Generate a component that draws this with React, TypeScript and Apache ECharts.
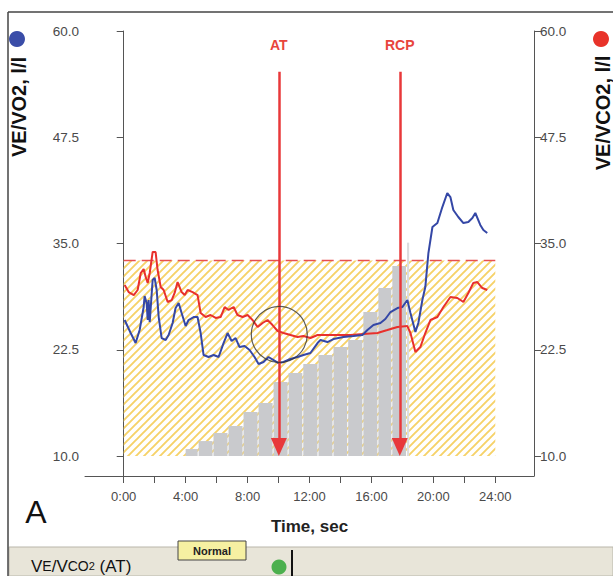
import React, { useEffect, useRef } from 'react';
import * as echarts from 'echarts';

// ---- axis ticks ----
const timeTicks = [0, 2, 4, 6, 8, 10, 12, 14, 16, 18, 20, 22, 24];
const timeLabels = [0, 4, 8, 12, 16, 20, 24];
const yTicks = [10, 22.5, 35, 47.5, 60];

// ---- VE/VO2 (blue) ----
const vo2Time = [0.06, 0.45, 0.77, 1.03, 1.29, 1.35, 1.48, 1.55, 1.61, 1.68, 1.81, 1.87, 2.0, 2.13, 2.26, 2.45, 2.71, 2.9, 3.16, 3.35, 3.55, 3.74, 4.0, 4.19, 4.52, 4.77, 4.97, 5.16, 5.48, 5.81, 6.13, 6.45, 6.71, 6.97, 7.23, 7.48, 7.81, 8.13, 8.45, 8.71, 9.03, 9.35, 9.68, 10.0, 10.32, 10.77, 11.23, 11.61, 12.06, 12.52, 12.71, 13.16, 13.55, 14.19, 14.84, 15.42, 15.74, 16.13, 16.58, 16.9, 17.23, 17.68, 18.0, 18.32, 18.52, 18.84, 19.03, 19.29, 19.48, 19.68, 19.94, 20.26, 20.58, 20.9, 21.1, 21.29, 21.61, 21.94, 22.26, 22.52, 22.71, 23.03, 23.23, 23.48];
const vo2Values = [26.0, 24.47, 23.29, 24.82, 27.53, 28.82, 28.0, 26.0, 28.35, 25.76, 29.18, 30.71, 30.94, 29.53, 26.35, 23.88, 23.65, 24.24, 25.65, 27.41, 28.0, 26.82, 25.29, 26.0, 26.35, 26.35, 24.47, 21.88, 21.65, 21.88, 21.65, 23.29, 24.47, 23.53, 23.88, 22.82, 22.94, 22.47, 21.65, 20.82, 21.06, 21.65, 21.29, 20.94, 21.06, 21.41, 21.65, 21.88, 22.12, 23.29, 23.65, 23.41, 23.76, 24.0, 24.12, 24.24, 24.82, 25.41, 25.65, 26.12, 26.94, 27.41, 27.53, 28.35, 26.82, 24.59, 25.65, 28.35, 29.88, 33.88, 36.94, 37.41, 39.29, 40.94, 40.47, 38.94, 38.12, 37.41, 37.53, 38.0, 38.59, 37.18, 36.59, 36.24];

// ---- VE/VCO2 (red) ----
const vco2Time = [0.06, 0.32, 0.65, 0.9, 1.1, 1.29, 1.42, 1.55, 1.68, 1.87, 2.06, 2.19, 2.39, 2.58, 2.84, 3.1, 3.29, 3.48, 3.74, 3.94, 4.13, 4.45, 4.77, 4.97, 5.29, 5.61, 5.94, 6.26, 6.52, 6.77, 7.1, 7.35, 7.68, 8.0, 8.32, 8.65, 8.97, 9.29, 9.61, 9.94, 10.32, 10.77, 11.23, 11.61, 12.06, 12.52, 13.55, 14.65, 15.48, 16.39, 17.03, 17.68, 18.32, 18.52, 18.84, 19.16, 19.48, 19.81, 20.26, 20.65, 21.1, 21.55, 21.94, 22.26, 22.58, 22.84, 23.16, 23.48];
const vco2Values = [30.12, 29.29, 28.94, 29.53, 31.53, 32.0, 31.06, 30.35, 31.53, 34.0, 34.0, 31.88, 29.88, 29.53, 28.12, 28.35, 29.18, 30.47, 29.29, 28.94, 29.53, 29.29, 28.94, 26.82, 26.35, 26.59, 26.24, 26.35, 27.53, 27.18, 27.53, 26.59, 26.35, 26.59, 26.0, 25.18, 25.65, 26.0, 25.41, 24.71, 24.47, 24.24, 24.0, 24.12, 23.88, 24.24, 24.24, 24.24, 24.35, 24.47, 24.82, 25.18, 25.29, 24.47, 22.24, 22.82, 24.47, 26.0, 26.35, 27.53, 28.71, 28.59, 28.12, 29.18, 30.35, 30.47, 29.76, 29.53];

// ---- grey workload bars ----
const barEdges = [4.0, 4.84, 5.8, 6.77, 7.74, 8.71, 9.68, 10.65, 11.6, 12.58, 13.55, 14.5, 15.48, 16.45, 17.35, 18.3];
const barValues = [10.82, 11.76, 12.71, 13.53, 15.18, 16.24, 18.71, 19.76, 20.82, 21.88, 22.82, 23.65, 26.94, 29.76, 32.35];
const peakBar = [18.3, 18.5, 35.1];

// ---- normal zone / threshold ----
const zoneRange = [0, 24];
const zoneFloor = 10;
const thresholdValue = 33;

// ---- markers ----
const markerNames = ['AT', 'RCP'];
const markerTimes = [10.02, 17.83];
const markerTop = 55.2;
const markerTip = 11.06;
const circleCenter = [10.05, 24.3];

function makeHatch() {
  const s = 8;
  const c = document.createElement('canvas');
  c.width = s;
  c.height = s;
  const ctx = c.getContext('2d')!;
  ctx.strokeStyle = '#f6d268';
  ctx.lineWidth = 1.9;
  ctx.beginPath();
  ctx.moveTo(-1, s + 1);
  ctx.lineTo(s + 1, -1);
  ctx.moveTo(-2, 2);
  ctx.lineTo(2, -2);
  ctx.moveTo(s - 2, s + 2);
  ctx.lineTo(s + 2, s - 2);
  ctx.stroke();
  return c;
}

export default function App() {
  const ref = useRef<HTMLDivElement>(null);
  useEffect(() => {
    if (!ref.current) return;
    const chart = echarts.init(ref.current, null, { renderer: 'svg' });
    const font = "'Liberation Sans', Arial, sans-serif";
    const hatch = makeHatch();
    const axisColor = '#555';

    const barData: number[][] = barValues.map((v, i) => [barEdges[i], barEdges[i + 1], v]);
    barData.push(peakBar);

    const yAxisBase = (position: 'left' | 'right') => ({
      type: 'value',
      position,
      min: 7.65,
      max: 60,
      axisLine: { show: true, lineStyle: { color: axisColor, width: 1 } },
      axisTick: { show: true, length: 7, customValues: yTicks, lineStyle: { color: axisColor } },
      axisLabel: {
        customValues: yTicks,
        formatter: (v: number) => v.toFixed(1),
        color: '#4a4a4a',
        fontSize: 13.5,
        fontFamily: font,
        margin: 6,
      },
      splitLine: { show: false },
    });

    const option: any = {
      animation: false,
      backgroundColor: '#fff',
      grid: { left: 85, right: 79, top: 31, bottom: 100, containLabel: false },
      xAxis: {
        type: 'value',
        min: -2.5,
        max: 26.5,
        axisLine: { show: true, lineStyle: { color: axisColor, width: 1 } },
        axisTick: { show: true, length: 7, customValues: timeTicks, lineStyle: { color: axisColor } },
        axisLabel: {
          customValues: timeLabels,
          formatter: (v: number) => `${v}:00`,
          color: '#4a4a4a',
          fontSize: 13,
          fontFamily: font,
          margin: 14,
        },
        splitLine: { show: false },
        name: 'Time, sec',
        nameLocation: 'middle',
        nameGap: 42,
        nameTextStyle: { fontWeight: 'bold', fontSize: 17, color: '#222', fontFamily: font },
      },
      yAxis: [yAxisBase('left'), yAxisBase('right')],
      series: [
        {
          type: 'custom',
          z: 1,
          silent: true,
          data: [[zoneRange[0], zoneRange[1], zoneFloor, thresholdValue]],
          encode: { x: [0, 1], y: [2, 3] },
          renderItem: (params: any, api: any) => {
            const p1 = api.coord([api.value(0), api.value(3)]);
            const p2 = api.coord([api.value(1), api.value(2)]);
            return {
              type: 'rect',
              shape: { x: p1[0], y: p1[1], width: p2[0] - p1[0], height: p2[1] - p1[1] },
              style: { fill: { image: hatch, repeat: 'repeat' } },
            };
          },
        },
        {
          type: 'custom',
          z: 2,
          silent: true,
          data: barData,
          encode: { x: [0, 1], y: 2 },
          renderItem: (params: any, api: any) => {
            const p1 = api.coord([api.value(0), api.value(2)]);
            const p2 = api.coord([api.value(1), zoneFloor]);
            const last = params.dataIndex === barData.length - 1;
            return {
              type: 'rect',
              shape: { x: p1[0], y: p1[1], width: Math.max(1, p2[0] - p1[0] - 1), height: p2[1] - p1[1] },
              style: { fill: last ? '#dcdcde' : '#c9cacd' },
            };
          },
        },
        {
          type: 'line',
          z: 3,
          silent: true,
          showSymbol: false,
          data: [[zoneRange[0], thresholdValue], [zoneRange[1], thresholdValue]],
          lineStyle: { color: '#e85050', width: 1.5, type: [12, 6] },
        },
        {
          name: 'VE/VCO2',
          type: 'line',
          z: 4,
          yAxisIndex: 1,
          showSymbol: false,
          silent: true,
          data: vco2Time.map((t, i) => [t, vco2Values[i]]),
          lineStyle: { color: '#e8302c', width: 2 },
        },
        {
          name: 'VE/VO2',
          type: 'line',
          z: 4,
          yAxisIndex: 0,
          showSymbol: false,
          silent: true,
          data: vo2Time.map((t, i) => [t, vo2Values[i]]),
          lineStyle: { color: '#3447a6', width: 2 },
        },
        {
          type: 'scatter',
          z: 5,
          silent: true,
          symbol: 'circle',
          symbolSize: 56,
          data: [circleCenter],
          itemStyle: { color: 'rgba(0,0,0,0)', borderColor: '#333', borderWidth: 1.2 },
          markLine: {
            silent: true,
            animation: false,
            lineStyle: { color: '#e8383a', width: 2.5, type: 'solid' },
            label: {
              show: true,
              position: 'start',
              formatter: '{b}',
              color: '#e8453c',
              fontWeight: 'bold',
              fontSize: 14,
              fontFamily: font,
              distance: 20,
            },
            data: markerTimes.map((t, i) => [
              { coord: [t, markerTop], name: markerNames[i], symbol: 'none' },
              { coord: [t, markerTip], symbol: 'triangle', symbolSize: [16, 18] },
            ]),
          },
        },
      ],
      graphic: [
        { type: 'line', shape: { x1: 8, y1: 12, x2: 613, y2: 12 }, style: { stroke: '#444', lineWidth: 1.5 } },
        { type: 'rect', shape: { x: 9, y: 547, width: 604, height: 29 }, style: { fill: '#e8e5d9', stroke: '#b9b6aa', lineWidth: 1 } },
        { type: 'line', shape: { x1: 8, y1: 12, x2: 8, y2: 576 }, style: { stroke: '#444', lineWidth: 1.5 } },
        {
          type: 'text', x: 36, y: 512,
          style: { text: 'A', fontSize: 32, fontFamily: font, fill: '#111', align: 'center', verticalAlign: 'middle' },
        },
        { type: 'circle', shape: { cx: 17, cy: 39, r: 8 }, style: { fill: '#3a4da8' } },
        {
          type: 'text', x: 19, y: 107, rotation: Math.PI / 2,
          style: { text: 'VE/VO2, l/l', fontSize: 20, fontWeight: 'bold', fontFamily: font, fill: '#111', align: 'center', verticalAlign: 'middle' },
        },
        { type: 'circle', shape: { cx: 601, cy: 39, r: 8 }, style: { fill: '#e8332a' } },
        {
          type: 'text', x: 603, y: 113, rotation: Math.PI / 2,
          style: { text: 'VE/VCO2, l/l', fontSize: 20, fontWeight: 'bold', fontFamily: font, fill: '#111', align: 'center', verticalAlign: 'middle' },
        },
        {
          type: 'text', x: 31, y: 566,
          style: {
            text: '{a|V}{s|E}{a|/V}{s|CO}{t|2}{a| (AT)}',
            verticalAlign: 'middle',
            rich: {
              a: { fontSize: 17, fontFamily: font, fill: '#111' },
              s: { fontSize: 14, fontFamily: font, fill: '#111' },
              t: { fontSize: 11, fontFamily: font, fill: '#111' },
            },
          },
        },
        { type: 'rect', shape: { x: 178, y: 541, width: 68, height: 19 }, style: { fill: '#f6f0a2', stroke: '#444', lineWidth: 1 } },
        {
          type: 'text', x: 212, y: 550.5,
          style: { text: 'Normal', fontSize: 11, fontWeight: 'bold', fontFamily: font, fill: '#222', align: 'center', verticalAlign: 'middle' },
        },
        { type: 'circle', shape: { cx: 279, cy: 567, r: 7.5 }, style: { fill: '#4cb04e' } },
        { type: 'line', shape: { x1: 292, y1: 550, x2: 292, y2: 576 }, style: { stroke: '#111', lineWidth: 2 } },
      ],
    };

    chart.setOption(option);
    return () => chart.dispose();
  }, []);

  return (
    <div
      ref={ref}
      style={{ position: 'absolute', left: 0, top: 0, width: 613, height: 576, background: '#fff' }}
    />
  );
}
